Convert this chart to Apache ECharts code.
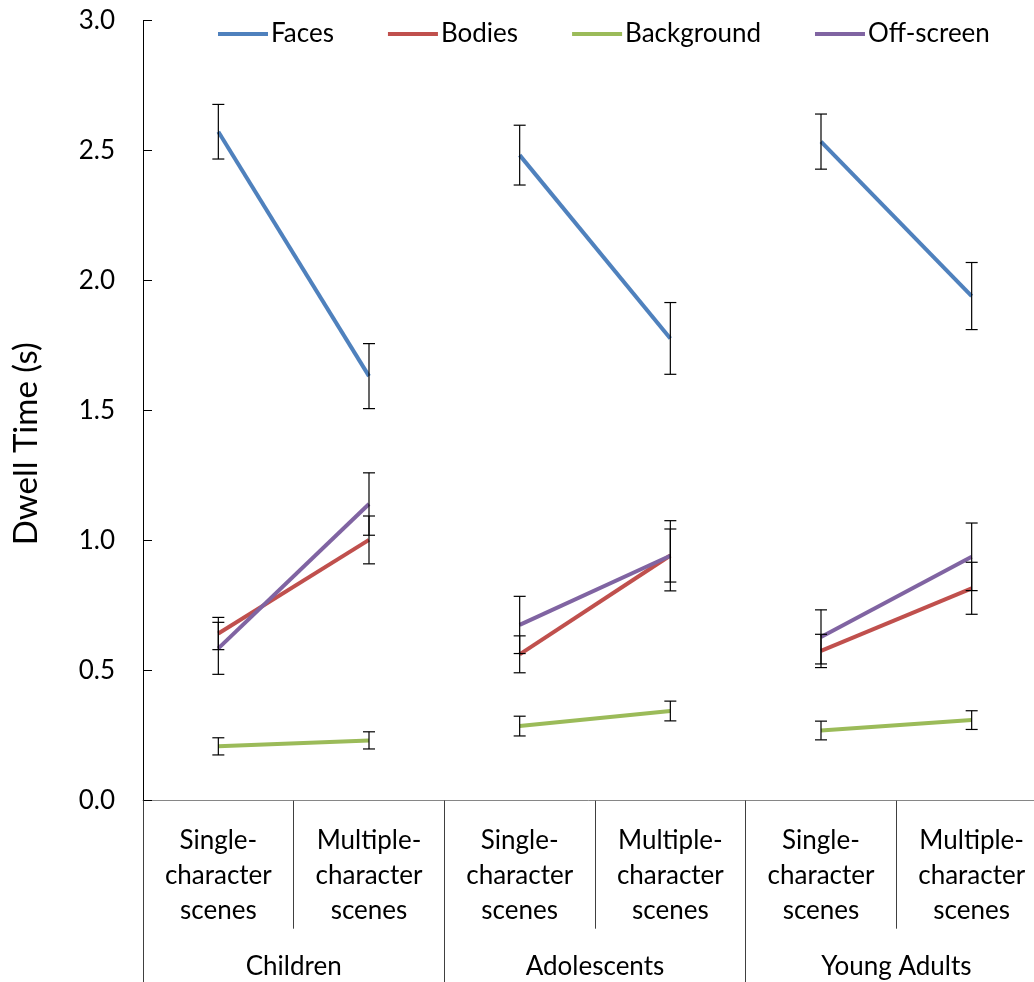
<!DOCTYPE html>
<html>
<head>
<meta charset="utf-8">
<script src="https://cdn.jsdelivr.net/npm/echarts@6/dist/echarts.min.js"></script>
<style>
  html, body { margin: 0; padding: 0; background: #fff; }
  #chart { width: 1034px; height: 982px; }
</style>
</head>
<body>
<div id="chart"></div>
<script>
const categories = [
  'Single-\ncharacter\nscenes', 'Multiple-\ncharacter\nscenes',
  'Single-\ncharacter\nscenes', 'Multiple-\ncharacter\nscenes',
  'Single-\ncharacter\nscenes', 'Multiple-\ncharacter\nscenes'
]
const groups = ['Children', 'Adolescents', 'Young Adults']
const seriesNames = ['Faces', 'Bodies', 'Background', 'Off-screen']
const yTicks = [0, 0.5, 1.0, 1.5, 2.0, 2.5, 3.0]

const faces = [2.573, 1.633, 2.483, 1.778, 2.535, 1.941]
const facesErr = [0.105, 0.125, 0.115, 0.138, 0.106, 0.129]
const bodies = [0.643, 1.003, 0.563, 0.943, 0.576, 0.817]
const bodiesErr = [0.062, 0.092, 0.071, 0.102, 0.064, 0.100]
const background = [0.209, 0.232, 0.287, 0.345, 0.270, 0.310]
const backgroundErr = [0.033, 0.033, 0.038, 0.038, 0.036, 0.036]
const offscreen = [0.586, 1.141, 0.676, 0.942, 0.630, 0.938]
const offscreenErr = [0.100, 0.120, 0.110, 0.135, 0.104, 0.130]

const colors = ['#4F81BD', '#C0504D', '#9BBB59', '#8064A2']
const FONT = 'Lato'

const values = [faces, bodies, background, offscreen]
const errors = [facesErr, bodiesErr, backgroundErr, offscreenErr]

const chart = echarts.init(document.getElementById('chart'))

// one line per measure and age group, so the groups are not joined
const lineSeries = []
values.forEach((vals, m) => {
  groups.forEach((g, gi) => {
    lineSeries.push({
      name: seriesNames[m],
      type: 'line',
      data: vals.map((v, i) => (Math.floor(i / 2) === gi ? v : '-')),
      showSymbol: false,
      symbol: 'none',
      lineStyle: { color: colors[m], width: 4 },
      itemStyle: { color: colors[m] },
      z: 2 + m
    })
  })
})

const errData = []
values.forEach((vals, m) => {
  vals.forEach((v, i) => {
    errData.push([i, v - errors[m][i], v + errors[m][i]])
  })
})

const errorSeries = {
  type: 'custom',
  name: 'err',
  data: errData,
  encode: { x: 0, y: [1, 2] },
  z: 10,
  renderItem: (params, api) => {
    const lo = api.coord([api.value(0), api.value(1)])
    const hi = api.coord([api.value(0), api.value(2)])
    const w = 6
    const style = { stroke: '#000', lineWidth: 1.2 }
    return {
      type: 'group',
      children: [
        { type: 'line', shape: { x1: lo[0], y1: lo[1], x2: hi[0], y2: hi[1] }, style },
        { type: 'line', shape: { x1: lo[0] - w, y1: lo[1], x2: lo[0] + w, y2: lo[1] }, style },
        { type: 'line', shape: { x1: hi[0] - w, y1: hi[1], x2: hi[0] + w, y2: hi[1] }, style }
      ]
    }
  }
}

const option = {
  animation: false,
  backgroundColor: '#fff',
  textStyle: { fontFamily: FONT, color: '#000' },
  legend: {
    data: seriesNames,
    left: 213,
    top: 16,
    icon: 'rect',
    itemWidth: 50,
    itemHeight: 4,
    itemGap: 54,
    selectedMode: false,
    textStyle: { fontFamily: FONT, fontSize: 26, color: '#000', padding: [0, 0, 0, -2] }
  },
  grid: {
    left: 143,
    right: -13,
    top: 20.7,
    bottom: 181.3,
    containLabel: false,
    outerBoundsMode: 'none'
  },
  xAxis: [
    {
      type: 'category',
      position: 'bottom',
      data: categories,
      boundaryGap: true,
      axisLine: { show: true, lineStyle: { color: '#868686', width: 1 } },
      axisTick: { show: true, length: 128, lineStyle: { color: '#404040', width: 1 } },
      axisLabel: {
        interval: 0,
        fontFamily: FONT,
        fontSize: 26,
        lineHeight: 35,
        margin: 22,
        color: '#000'
      }
    },
    {
      type: 'category',
      position: 'bottom',
      data: groups,
      boundaryGap: true,
      axisLine: { show: false },
      axisTick: { show: true, length: 200, lineStyle: { color: '#404040', width: 1 } },
      axisLabel: {
        interval: 0,
        fontFamily: FONT,
        fontSize: 26,
        lineHeight: 35,
        margin: 148,
        color: '#000'
      }
    }
  ],
  yAxis: {
    type: 'value',
    min: yTicks[0],
    max: yTicks[yTicks.length - 1],
    interval: 0.5,
    name: 'Dwell Time (s)',
    nameLocation: 'middle',
    nameRotate: 90,
    nameGap: 100,
    nameTextStyle: { fontFamily: FONT, fontSize: 33, color: '#000', padding: [0, 66, 0, 0] },
    axisLine: { show: true, lineStyle: { color: '#000', width: 1 } },
    axisTick: { show: true, inside: true, length: 9, lineStyle: { color: '#000' } },
    splitLine: { show: false },
    axisLabel: {
      fontFamily: FONT,
      fontSize: 26,
      color: '#000',
      margin: 28,
      formatter: v => v.toFixed(1)
    }
  },
  series: [...lineSeries, errorSeries]
}

chart.setOption(option)
</script>
</body>
</html>
